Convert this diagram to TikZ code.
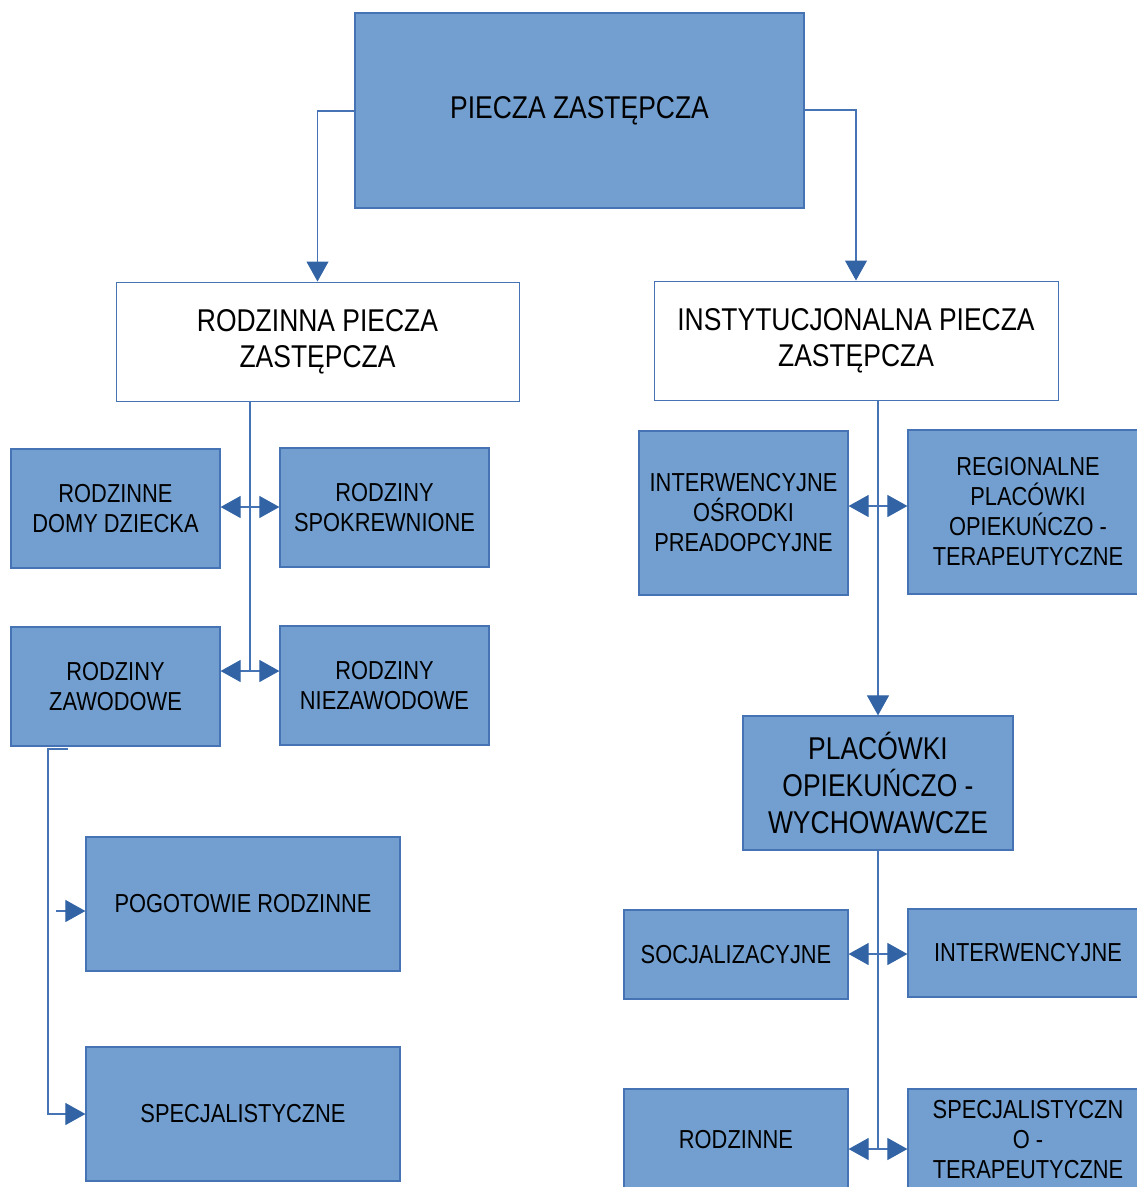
\documentclass[tikz,border=0pt]{standalone}
\usepackage{fontspec}
\setmainfont{Liberation Sans}[FakeStretch=0.84]
\usetikzlibrary{arrows.meta}
\definecolor{boxblue}{RGB}{114, 159, 207}
\definecolor{edgeblue}{RGB}{70, 115, 180}
\definecolor{tipblue}{RGB}{50, 100, 165}
\tikzset{>={Triangle[width=22pt, length=20pt, color=tipblue]}}
\begin{document}
\begin{tikzpicture}[x=1pt, y=-1pt,
  box/.style={draw=edgeblue, fill=boxblue, line width=1.2pt, inner sep=0pt, align=center, font=\fontsize{26}{30}\selectfont},
  whitebox/.style={box, fill=white, line width=1pt, font=\fontsize{31.5}{36}\selectfont},
  link/.style={draw=edgeblue, line width=1.1pt}]
\useasboundingbox (0,0) rectangle (1137,1187);
% top
\node[box, minimum width=449, minimum height=195, font=\fontsize{31.5}{36}\selectfont] (piecza) at (579.5,110.5) {PIECZA ZASTĘPCZA};
\node[whitebox, minimum width=403, minimum height=119] (rodzinna) at (317.5,341.5) {RODZINNA PIECZA\\ZASTĘPCZA};
\node[whitebox, minimum width=404, minimum height=119] (instyt) at (856,340.5) {INSTYTUCJONALNA PIECZA\\ZASTĘPCZA};
% left branch
\node[box, minimum width=209, minimum height=119] (domy) at (115.5,508.5) {RODZINNE\\DOMY DZIECKA};
\node[box, minimum width=209, minimum height=119] (spokr) at (384.5,507.5) {RODZINY\\SPOKREWNIONE};
\node[box, minimum width=209, minimum height=119] (zawod) at (115.5,686.5) {RODZINY\\ZAWODOWE};
\node[box, minimum width=209, minimum height=119] (niezaw) at (384.5,685.5) {RODZINY\\NIEZAWODOWE};
\node[box, minimum width=314, minimum height=134] (pogot) at (243,904) {POGOTOWIE RODZINNE};
\node[box, minimum width=314, minimum height=134] (specl) at (243,1114) {SPECJALISTYCZNE};
% right branch
\node[box, minimum width=209, minimum height=164] (osrodki) at (743.5,513) {INTERWENCYJNE\\OŚRODKI\\PREADOPCYJNE};
\node[box, minimum width=240, minimum height=164] (region) at (1028,512) {REGIONALNE\\PLACÓWKI\\OPIEKUŃCZO -\\TERAPEUTYCZNE};
\node[box, minimum width=270, minimum height=134, font=\fontsize{31.5}{37}\selectfont] (placowki) at (878,783) {PLACÓWKI\\OPIEKUŃCZO -\\WYCHOWAWCZE};
\node[box, minimum width=224, minimum height=89] (socjal) at (736,954.5) {SOCJALIZACYJNE};
\node[box, minimum width=240, minimum height=88] (interw) at (1028,953) {INTERWENCYJNE};
\node[box, minimum width=224, minimum height=102] (rodzr) at (736,1140) {RODZINNE};
\node[box, minimum width=240, minimum height=102] (spect) at (1028,1140) {SPECJALISTYCZN\\O -\\TERAPEUTYCZNE};
% connectors
\draw[link, ->] (piecza.west |- 0,111) -| (rodzinna.north);
\draw[link, ->] (piecza.east |- 0,110) -| (instyt.north);
\coordinate (lv) at (250,672);
\draw[link] (lv |- rodzinna.south) -- (lv);
\draw[link, <->] (domy.east |- 0,507) -- (spokr.west |- 0,507);
\draw[link, <->] (zawod.east |- 0,671) -- (niezaw.west |- 0,671);
\coordinate (brk) at (68,749);
\draw[link, ->] (brk) -- ++(-20,0) |- (specl.west);
\coordinate (stub) at (56,911);
\draw[link, ->] (stub) -- (stub -| pogot.west);
\draw[link, ->] (placowki.north |- instyt.south) -- (placowki.north);
\draw[link, <->] (osrodki.east |- 0,506) -- (region.west |- 0,506);
\coordinate (rv) at (878,1150);
\draw[link] (placowki.south) -- (rv);
\draw[link, <->] (socjal.east |- 0,954) -- (interw.west |- 0,954);
\draw[link, <->] (rodzr.east |- 0,1149) -- (spect.west |- 0,1149);
\end{tikzpicture}
\end{document}
